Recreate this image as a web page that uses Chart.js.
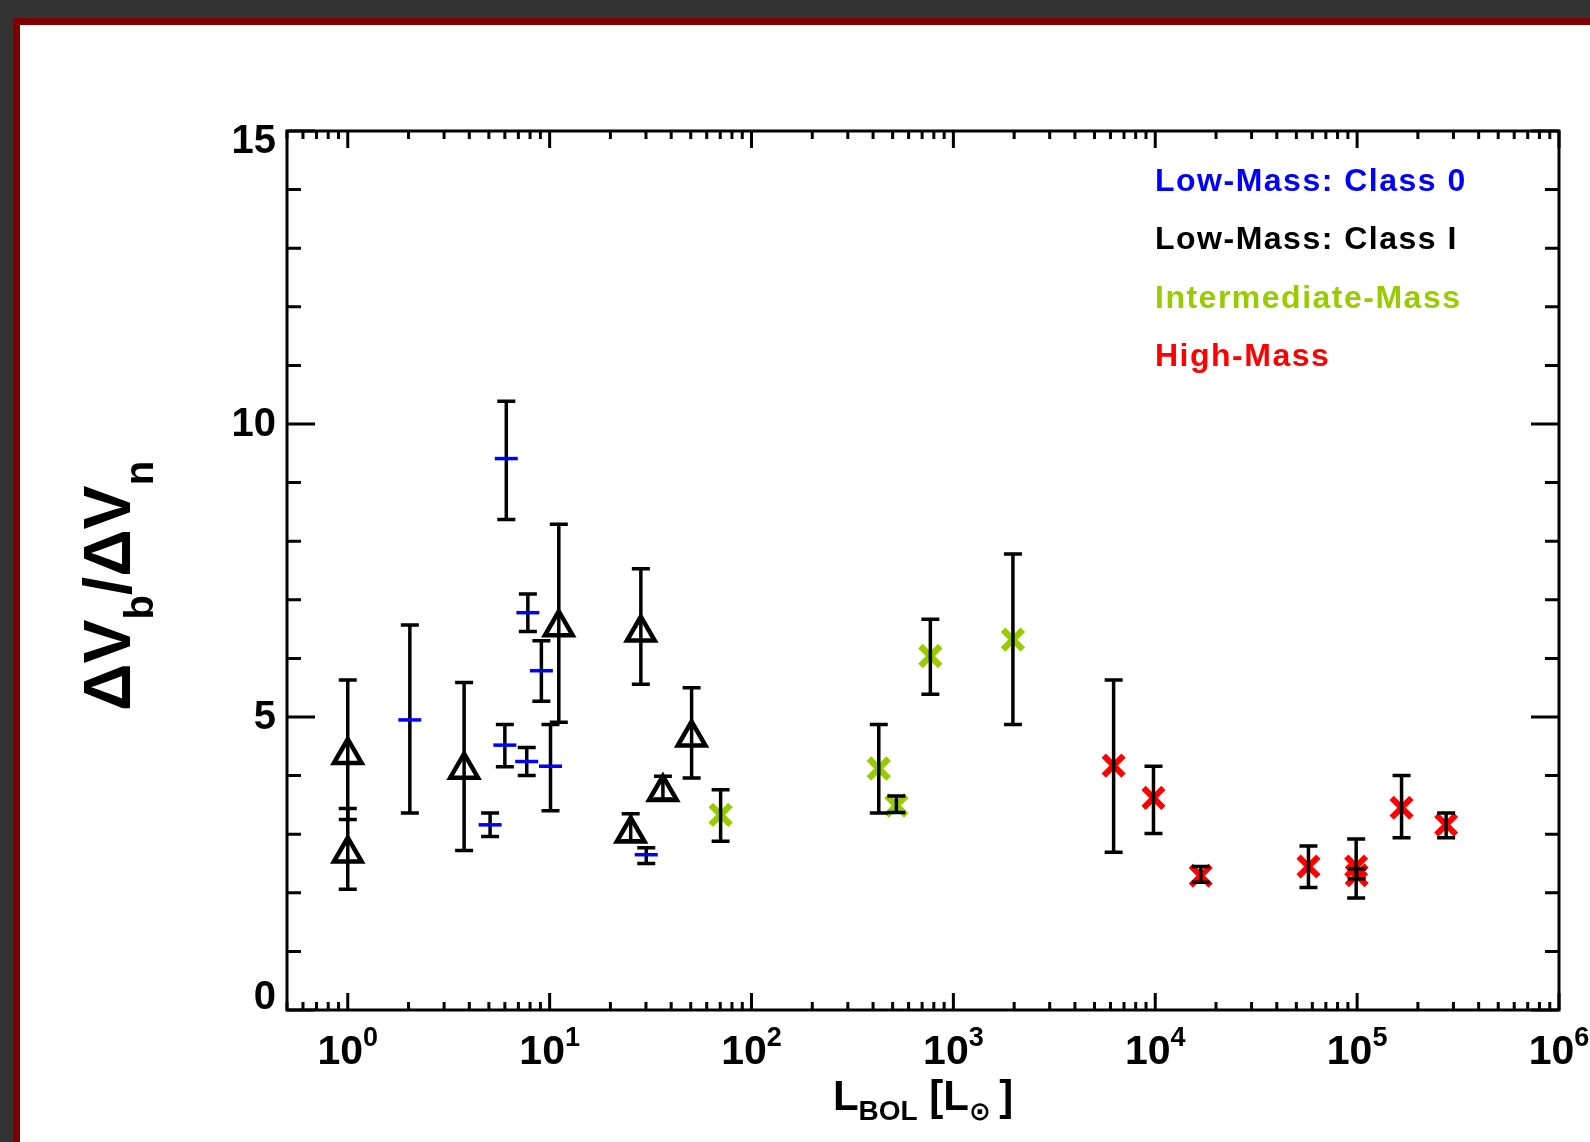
<!DOCTYPE html>
<html>
<head>
<meta charset="utf-8">
<script src="https://cdn.jsdelivr.net/npm/chart.js@4.4.1/dist/chart.umd.min.js"></script>
<style>
  html, body { margin: 0; padding: 0; background: #333333; overflow: hidden; }
  #frame { position: absolute; left: 13px; top: 18px; width: 1600px; height: 1200px; background: #fff;
           border-left: 7px solid #800000; border-top: 7px solid #800000; border-top-left-radius: 3px; }
  #plot { position: absolute; left: 0; top: 0; }
</style>
</head>
<body>
<div id="frame"></div>
<canvas id="plot" width="1590" height="1142"></canvas>
<script>
// Low-mass Class 0 (blue dashes)
const class0Lum   = [2.03, 5.07, 6.1, 6.0, 7.8, 7.7, 9.1, 10.1, 30.1];
const class0Ratio = [4.95, 3.16, 9.41, 4.52, 6.78, 4.24, 5.79, 4.16, 2.65];
const class0Hi    = [6.57, 3.36, 10.39, 4.87, 7.10, 4.48, 6.30, 4.87, 2.77];
const class0Lo    = [3.36, 2.96, 8.37, 4.15, 6.46, 4.00, 5.27, 3.40, 2.50];

// Low-mass Class I (open triangles)
const class1Lum   = [1.0, 1.0, 3.77, 11.1, 28.3, 25.2, 36.4, 50.5];
const class1Ratio = [4.35, 2.67, 4.10, 6.53, 6.44, 3.01, 3.72, 4.65];
const class1Hi    = [5.63, 3.44, 5.59, 8.29, 7.53, 3.35, 3.99, 5.50];
const class1Lo    = [3.25, 2.06, 2.72, 4.91, 5.56, 2.89, 3.60, 3.96];

// Intermediate mass (green)
const imLum   = [70.3, 427, 522, 769, 1972];
const imRatio = [3.33, 4.12, 3.49, 6.04, 6.32];
const imHi    = [3.76, 4.87, 3.65, 6.67, 7.78];
const imLo    = [2.88, 3.36, 3.37, 5.39, 4.87];

// High mass (red)
const hmLum   = [6220, 9800, 16800, 57400, 98900, 99500, 166000, 276000];
const hmRatio = [4.17, 3.62, 2.29, 2.45, 2.45, 2.30, 3.45, 3.16];
const hmHi    = [5.63, 4.16, 2.45, 2.80, 2.92, 2.41, 4.00, 3.36];
const hmLo    = [2.69, 3.01, 2.18, 2.09, 1.91, 2.24, 2.94, 2.94];

const legendLabels = ['Low-Mass: Class 0', 'Low-Mass: Class I', 'Intermediate-Mass', 'High-Mass'];
const legendColors = ['#0000ff', '#000000', '#99cc00', '#ff0000'];

const xMajorTicks = [1, 10, 100, 1e3, 1e4, 1e5, 1e6];
const xTickExp = ['0', '1', '2', '3', '4', '5', '6'];
const yMajorTicks = [0, 5, 10, 15];
const yTickLabels = ['0', '5', '10', '15'];

const FONT = '"Liberation Sans", Arial, "DejaVu Sans", sans-serif';

function pts(xs, ys) {
  return xs.map((x, i) => ({ x: x, y: ys[i] }));
}

function drawErrors(chart, ds) {
  const xs = chart.scales.x, ys = chart.scales.y, ctx = chart.ctx;
  ctx.save();
  ctx.strokeStyle = '#000';
  ctx.lineWidth = 3.5;
  ds.errLum.forEach((L, i) => {
    const px = xs.getPixelForValue(L);
    const pt = ys.getPixelForValue(ds.errHi[i]);
    const pb = ys.getPixelForValue(ds.errLo[i]);
    ctx.beginPath();
    ctx.moveTo(px, pt); ctx.lineTo(px, pb);
    ctx.moveTo(px - 9, pt); ctx.lineTo(px + 9, pt);
    ctx.moveTo(px - 9, pb); ctx.lineTo(px + 9, pb);
    ctx.stroke();
  });
  ctx.restore();
}

const errorBars = {
  id: 'errorBars',
  beforeDatasetDraw(chart, args) {
    const ds = chart.data.datasets[args.index];
    if (!ds.errOnTop) drawErrors(chart, ds);
  },
  afterDatasetDraw(chart, args) {
    const ds = chart.data.datasets[args.index];
    if (ds.errOnTop) drawErrors(chart, ds);
  }
};

const axesBox = {
  id: 'axesBox',
  afterDraw(chart) {
    const ctx = chart.ctx, xs = chart.scales.x, ys = chart.scales.y;
    const a = chart.chartArea;
    ctx.save();
    ctx.strokeStyle = '#000';
    ctx.lineWidth = 3;
    ctx.strokeRect(a.left, a.top, a.right - a.left, a.bottom - a.top);

    ctx.beginPath();
    // x ticks, bottom and top
    const xMinor = [];
    for (let d = 0.1; d < 1e6; d *= 10) {
      for (let m = 2; m <= 9; m++) {
        const v = m * d;
        if (v >= 0.5 && v <= 1e6) xMinor.push(v);
      }
    }
    xMinor.forEach(v => {
      const px = xs.getPixelForValue(v);
      ctx.moveTo(px, a.bottom); ctx.lineTo(px, a.bottom - 8);
      ctx.moveTo(px, a.top); ctx.lineTo(px, a.top + 8);
    });
    xMajorTicks.forEach(v => {
      const px = xs.getPixelForValue(v);
      ctx.moveTo(px, a.bottom); ctx.lineTo(px, a.bottom - 17);
      ctx.moveTo(px, a.top); ctx.lineTo(px, a.top + 17);
    });
    // y ticks, left and right
    for (let v = 1; v < 15; v++) {
      if (v % 5 === 0) continue;
      const py = ys.getPixelForValue(v);
      ctx.moveTo(a.left, py); ctx.lineTo(a.left + 14, py);
      ctx.moveTo(a.right, py); ctx.lineTo(a.right - 14, py);
    }
    yMajorTicks.forEach(v => {
      const py = ys.getPixelForValue(v);
      ctx.moveTo(a.left, py); ctx.lineTo(a.left + 28, py);
      ctx.moveTo(a.right, py); ctx.lineTo(a.right - 28, py);
    });
    ctx.stroke();

    // y tick labels
    ctx.fillStyle = '#000';
    ctx.font = 'bold 40px ' + FONT;
    ctx.textAlign = 'right';
    ctx.textBaseline = 'middle';
    yMajorTicks.forEach((v, i) => {
      let py = ys.getPixelForValue(v);
      py = Math.min(Math.max(py, a.top + 10), a.bottom - 13);
      ctx.fillText(yTickLabels[i], a.left - 11, py + 1);
    });

    // x tick labels with superscript exponents
    ctx.textAlign = 'left';
    ctx.textBaseline = 'alphabetic';
    xMajorTicks.forEach((v, i) => {
      const px = xs.getPixelForValue(v);
      ctx.font = 'bold 41px ' + FONT;
      const wMain = ctx.measureText('10').width;
      ctx.font = 'bold 27px ' + FONT;
      const wSup = ctx.measureText(xTickExp[i]).width;
      const x0 = px - (wMain + wSup) / 2;
      ctx.font = 'bold 41px ' + FONT;
      ctx.fillText('10', x0, a.bottom + 54);
      ctx.font = 'bold 27px ' + FONT;
      ctx.fillText(xTickExp[i], x0 + wMain, a.bottom + 36);
    });

    // x axis title: L_BOL [L_sun]
    const parts = [['L', 42, 0], ['BOL', 28, 10], [' [L', 42, 0], ['\u2299', 26, 10], ['\u2009]', 42, 0]];
    let total = 0;
    parts.forEach(p => { ctx.font = 'bold ' + p[1] + 'px ' + FONT; total += ctx.measureText(p[0]).width; });
    let cx = (a.left + a.right) / 2 - total / 2;
    parts.forEach(p => {
      ctx.font = 'bold ' + p[1] + 'px ' + FONT;
      ctx.fillText(p[0], cx, 1110 + p[2]);
      cx += ctx.measureText(p[0]).width;
    });

    // y axis title: ΔV_b/ΔV_n (rotated)
    const yparts = [['\u0394V', 66, 0], ['b', 40, 23], ['/\u0394V', 66, 0], ['n', 40, 23]];
    let ytotal = 0;
    yparts.forEach(p => { ctx.font = 'bold ' + p[1] + 'px ' + FONT; ytotal += ctx.measureText(p[0]).width; });
    ctx.save();
    ctx.translate(130, 586 + ytotal / 2);
    ctx.rotate(-Math.PI / 2);
    let ty = 0;
    yparts.forEach(p => {
      ctx.font = 'bold ' + p[1] + 'px ' + FONT;
      ctx.fillText(p[0], ty, p[2]);
      ty += ctx.measureText(p[0]).width;
    });
    ctx.restore();

    // legend
    ctx.font = 'bold 32px ' + FONT;
    ctx.letterSpacing = '1.5px';
    legendLabels.forEach((t, i) => {
      ctx.fillStyle = legendColors[i];
      ctx.fillText(t, 1155, 191 + i * 58.3);
    });
    ctx.restore();
  }
};

new Chart(document.getElementById('plot').getContext('2d'), {
  type: 'scatter',
  data: {
    datasets: [
      {
        label: legendLabels[0],
        data: pts(class0Lum, class0Ratio),
        errLum: class0Lum, errHi: class0Hi, errLo: class0Lo, errOnTop: false,
        pointStyle: 'line', pointRadius: 11.5, pointBorderWidth: 3.5,
        pointBorderColor: '#0000ff', pointBackgroundColor: '#0000ff'
      },
      {
        label: legendLabels[1],
        data: pts(class1Lum, class1Ratio),
        errLum: class1Lum, errHi: class1Hi, errLo: class1Lo, errOnTop: false,
        pointStyle: 'triangle', pointRadius: 16, pointBorderWidth: 4.5,
        pointBorderColor: '#000000', pointBackgroundColor: 'rgba(0,0,0,0)'
      },
      {
        label: legendLabels[2],
        data: pts(imLum, imRatio),
        errLum: imLum, errHi: imHi, errLo: imLo, errOnTop: true,
        pointStyle: 'crossRot', pointRadius: 14, pointBorderWidth: 6.5,
        pointBorderColor: '#99cc00', pointBackgroundColor: '#99cc00'
      },
      {
        label: legendLabels[3],
        data: pts(hmLum, hmRatio),
        errLum: hmLum, errHi: hmHi, errLo: hmLo, errOnTop: true,
        pointStyle: 'crossRot', pointRadius: 14, pointBorderWidth: 6,
        pointBorderColor: '#ff0000', pointBackgroundColor: '#ff0000'
      }
    ]
  },
  options: {
    responsive: false,
    animation: false,
    events: [],
    layout: { padding: { left: 287, right: 31, top: 131, bottom: 132 } },
    plugins: { legend: { display: false }, tooltip: { enabled: false } },
    scales: {
      x: {
        type: 'logarithmic', min: 0.5, max: 1e6, display: false,
        afterFit: s => { s.height = 0; s.paddingLeft = 0; s.paddingRight = 0; }
      },
      y: {
        type: 'linear', min: 0, max: 15, display: false,
        afterFit: s => { s.width = 0; s.paddingTop = 0; s.paddingBottom = 0; }
      }
    }
  },
  plugins: [errorBars, axesBox]
});
</script>
</body>
</html>
